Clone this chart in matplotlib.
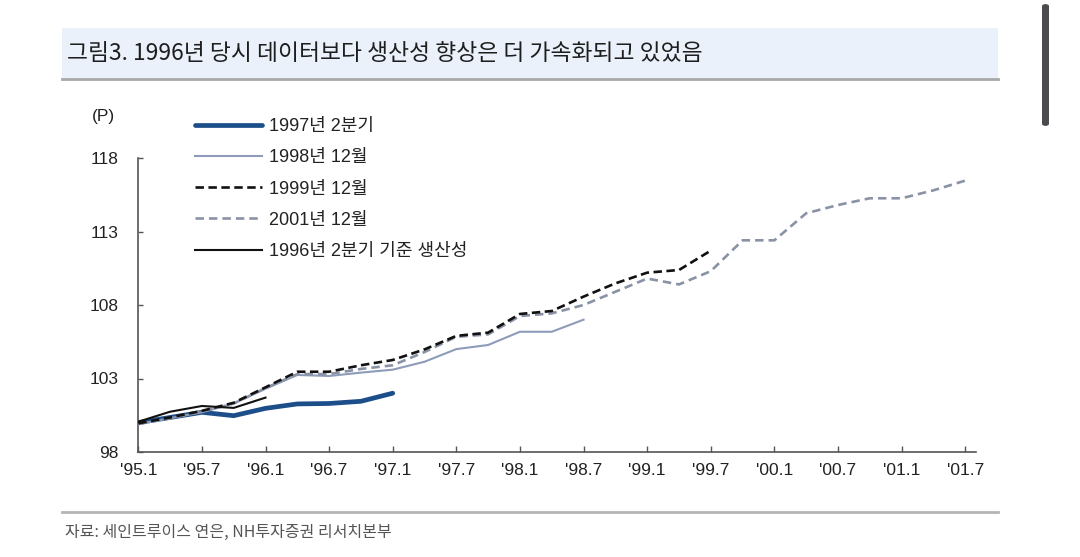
import matplotlib
matplotlib.use("Agg")
import matplotlib.pyplot as plt
from matplotlib.patches import Rectangle, FancyBboxPatch
from matplotlib.lines import Line2D

# ---------------- data ----------------
tick_labels = ["'95.1", "'95.7", "'96.1", "'96.7", "'97.1", "'97.7", "'98.1",
               "'98.7", "'99.1", "'99.7", "'00.1", "'00.7", "'01.1", "'01.7"]
# quarterly observations starting at 1995 Q1 (index 0)
q2_1997 = [100.0, 100.35, 100.7, 100.47, 100.97, 101.27, 101.3, 101.45, 102.0]
dec_1998 = [99.9, 100.3, 100.7, 101.3, 102.3, 103.24, 103.17, 103.4, 103.6,
            104.14, 105.0, 105.28, 106.18, 106.18, 107.0]
dec_1999 = [99.95, 100.35, 100.8, 101.35, 102.4, 103.46, 103.46, 103.9, 104.26,
            104.98, 105.9, 106.12, 107.39, 107.59, 108.57, 109.47, 110.2, 110.38, 111.7]
dec_2001 = [99.9, 100.3, 100.75, 101.3, 102.35, 103.3, 103.3, 103.65, 103.9,
            104.8, 105.84, 106.0, 107.25, 107.43, 108.0, 108.9, 109.8, 109.4,
            110.3, 112.4, 112.4, 114.24, 114.8, 115.26, 115.26, 115.8, 116.46]
base_1996q2 = [100.06, 100.74, 101.13, 101.0, 101.7]

series_labels = ["1997년 2분기", "1998년 12월", "1999년 12월", "2001년 12월",
                 "1996년 2분기 기준 생산성"]
y_ticks = [98, 103, 108, 113, 118]

title_text = "그림3. 1996년 당시 데이터보다 생산성 향상은 더 가속화되고 있었음"
source_text = "자료: 세인트루이스 연은, NH투자증권 리서치본부"

# ---------------- fonts ----------------
LAT = ["Liberation Sans Narrow", "Liberation Sans", "Noto Sans CJK KR"]
KR = ["Noto Sans CJK KR", "DejaVu Sans"]
plt.rcParams["font.family"] = ["Liberation Sans", "Noto Sans CJK KR", "DejaVu Sans"]

W, H = 1080, 557
fig = plt.figure(figsize=(W / 100, H / 100), dpi=100)
fig.patch.set_facecolor("white")


def fx(px):
    return px / W


def fy(py):
    return (H - py) / H


# title band
fig.add_artist(Rectangle((fx(62), fy(78)), fx(998) - fx(62), fy(28) - fy(78),
                         transform=fig.transFigure, facecolor="#eaf1fa",
                         edgecolor="none", zorder=0))
fig.add_artist(Line2D([fx(62), fx(998)], [fy(79), fy(79)], transform=fig.transFigure,
                      color="#a8a8a8", lw=2.0))
fig.text(fx(67), fy(53), title_text, family=KR, fontsize=16.4, color="#1e1e1e",
         ha="left", va="center")

# footer
fig.add_artist(Line2D([fx(62), fx(998)], [fy(512), fy(512)], transform=fig.transFigure,
                      color="#b4b4b4", lw=2.0))
fig.text(fx(65), fy(532), source_text, family=KR, fontsize=11.5, color="#555555",
         ha="left", va="center")

# scrollbar of the screenshot
fig.add_artist(FancyBboxPatch((fx(1042), fy(126)), fx(1049) - fx(1042), fy(4) - fy(126),
                              boxstyle="round,pad=0,rounding_size=0.004",
                              transform=fig.transFigure, facecolor="#4b4b50",
                              edgecolor="none"))

# ---------------- axes ----------------
ax = fig.add_axes([fx(138.3), fy(452), fx(976) - fx(138.3), fy(158) - fy(452)])
ax.set_xlim(0, 26.34)
ax.set_ylim(98, 118)

l1, = ax.plot(range(len(q2_1997)), q2_1997, color="#1c4f8a", lw=3.4,
              solid_capstyle="round", zorder=2)
l2, = ax.plot(range(len(dec_1998)), dec_1998, color="#8e9cba", lw=1.5, zorder=3)
l4, = ax.plot(range(len(dec_2001)), dec_2001, color="#8a92a6", lw=1.9,
              linestyle=(0, (3.2, 1.9)), zorder=4)
l3, = ax.plot(range(len(dec_1999)), dec_1999, color="#111111", lw=1.9,
              linestyle=(0, (3.2, 1.7)), zorder=5)
l5, = ax.plot(range(len(base_1996q2)), base_1996q2, color="#111111", lw=1.5, zorder=6)

for s in ("top", "right"):
    ax.spines[s].set_visible(False)
for s in ("left", "bottom"):
    ax.spines[s].set_color("#555555")
    ax.spines[s].set_linewidth(1.2)

ax.set_xticks(range(0, 27, 2))
ax.set_xticklabels(tick_labels, family=LAT, fontsize=12.5, color="#222222")
ax.set_yticks(y_ticks)
ax.set_yticklabels([str(v) for v in y_ticks], family=LAT, fontsize=12.5, color="#222222")
ax.tick_params(axis="x", direction="in", length=4, width=1, color="#555555", pad=8)
ax.tick_params(axis="y", direction="in", length=3.5, width=1, color="#555555", pad=14)

fig.text(fx(103), fy(117), "(P)", family=LAT, fontsize=12.5, color="#222222",
         ha="center", va="center")

leg = ax.legend([l1, l2, l3, l4, l5], series_labels, loc="upper left",
                bbox_to_anchor=(fx(195), fy(118)), bbox_transform=fig.transFigure,
                frameon=False, borderpad=0, borderaxespad=0, handlelength=3.7,
                handletextpad=0.4, labelspacing=0.79,
                prop={"family": ["Liberation Sans", "Noto Sans CJK KR"], "size": 13})
for t in leg.get_texts():
    t.set_color("#222222")

fig.savefig("out.png", dpi=100, facecolor="white")
